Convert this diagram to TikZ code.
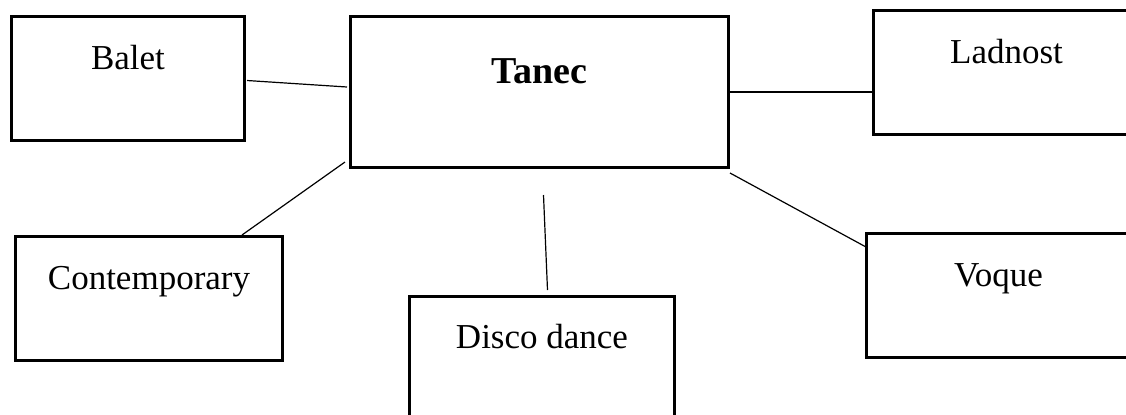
\documentclass[tikz,border=0pt]{standalone}
\usepackage{fontspec}
\setmainfont{Liberation Serif}
\usetikzlibrary{calc}

\begin{document}
\begin{tikzpicture}[
				x=0.5pt, y=-0.5pt,
				box/.style={draw, line width=1.5pt, inner sep=0pt, anchor=north west,
					font=\fontsize{17.5}{20}\selectfont, text height=26.5pt, text depth=35.5pt},
				link/.style={line width=0.6pt},
			]
				\clip (0,0) rectangle (1126,414);
				\node (balet) [box, minimum width=233*0.5pt] at (10,15) {Balet};
				\node (tanec) [box, minimum width=378*0.5pt, text height=33.5pt, text depth=42pt,
					font=\fontsize{19}{22}\selectfont\bfseries] at (349,15) {Tanec};
				\node (ladnost) [box, minimum width=266*0.5pt] at (872,9) {Ladnost};
				\node (contemp) [box, minimum width=267*0.5pt] at (14,235) {Contemporary};
				\node (disco) [box, minimum width=265*0.5pt, text height=26pt, text depth=40pt] at (408,295) {Disco dance};
				\node (voque) [box, minimum width=264*0.5pt] at (865,232) {Voque};
				
				\draw[link] ($(balet.east)+(1,2)$) -- ($(tanec.west)+(-2,-5)$);
				\draw[link] (tanec.east) -- (tanec.east -| ladnost.west);
				\draw[link] ($(tanec.south west)+(-4,-7)$) -- ($(contemp.north east)+(-42,0)$);
				\draw[link] ($(tanec.south)+(4,26)$) -- ($(disco.north)+(5.5,-5)$);
				\draw[link] ($(tanec.south east)+(0,4)$) -- ($(voque.north west)+(1,15)$);
			\end{tikzpicture}
\end{document}
